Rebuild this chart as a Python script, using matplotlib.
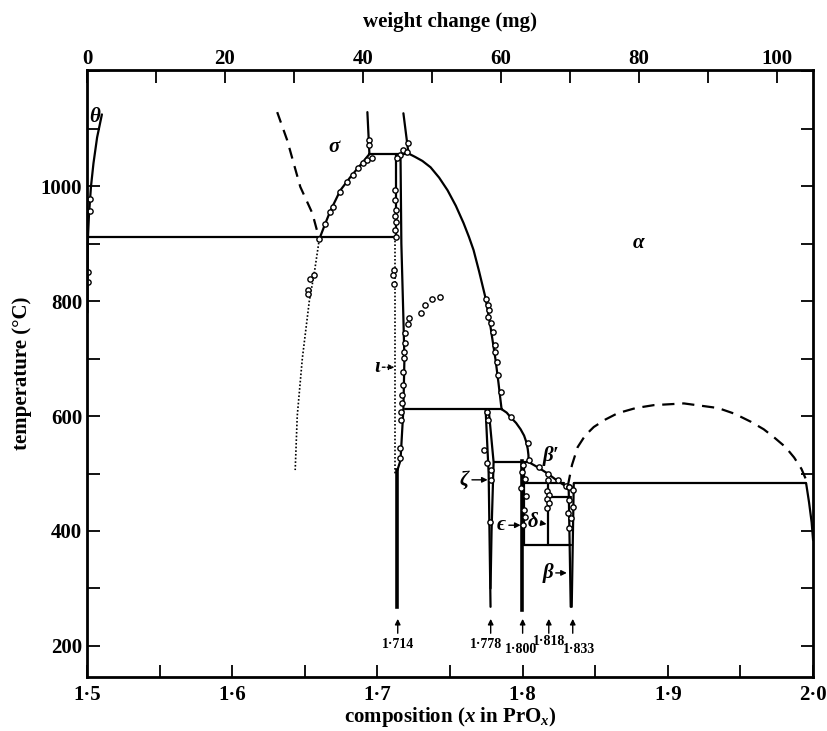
import numpy as np
import matplotlib
matplotlib.use('Agg')
import matplotlib.pyplot as plt
from matplotlib.ticker import FixedLocator, FixedFormatter, MultipleLocator

plt.rcParams['font.family'] = ['Liberation Serif', 'DejaVu Serif']
plt.rcParams['font.weight'] = 'bold'
plt.rcParams['axes.labelweight'] = 'bold'
plt.rcParams['mathtext.fontset'] = 'custom'
plt.rcParams['mathtext.rm'] = 'Liberation Serif:bold'
plt.rcParams['mathtext.it'] = 'Liberation Serif:italic:bold'

# axis set-up
x_ticks = [1.5, 1.6, 1.7, 1.8, 1.9, 2.0]
x_tick_labels = ['1·5', '1·6', '1·7', '1·8', '1·9', '2·0']
t_ticks = [200, 400, 600, 800, 1000]
mg_ticks = [0, 20, 40, 60, 80, 100]
MG_PER_X = 210.4  # weight change (mg) per unit of x

# theta boundary
theta_x = [1.5003, 1.5005, 1.5007, 1.5014, 1.5028, 1.5045, 1.5070, 1.5103]
theta_t = [780, 850, 911, 950, 1000, 1040, 1085, 1125]
theta_pts_x = [1.5021, 1.5021, 1.5007, 1.5007]
theta_pts_t = [978, 957, 850, 833]

# eutectoid at 911
eut_x = [1.5, 1.7131]
eut_t = [911, 911]

# sigma boundary, metastable part (dashed then dotted)
sig_dash_x = [1.6310, 1.6379, 1.6469, 1.6552, 1.6600]
sig_dash_t = [1129, 1080, 999, 953, 908]
sig_dot_x = [1.6600, 1.6566, 1.6531, 1.6483, 1.6448, 1.6434]
sig_dot_t = [908, 850, 800, 700, 600, 506]
sig_dot_pts_x = [1.6566, 1.6538, 1.6524, 1.6524]
sig_dot_pts_t = [845, 838, 819, 812]

# sigma boundary, solid
sig_x = [1.6600, 1.6641, 1.6676, 1.6745, 1.6814, 1.6883, 1.6945]
sig_t = [908, 935, 957, 993, 1016, 1037, 1056]
sig_pts_x = [1.6600, 1.6641, 1.6676, 1.6697, 1.6745, 1.6793, 1.6834,
             1.6869, 1.6903, 1.6931, 1.6966, 1.6945, 1.6945]
sig_pts_t = [908, 935, 956, 963, 990, 1007, 1019, 1031, 1040, 1045, 1049,
             1080, 1071]

# peritectic at 1056 and upper lines
top_x = [1.6945, 1.7214]
top_t = [1056, 1056]
up_left_x = [1.6931, 1.6945]
up_left_t = [1129, 1056]
up_right_x = [1.7179, 1.7214]
up_right_t = [1127, 1057]
top_pts_x = [1.7214, 1.7159, 1.7138, 1.7179, 1.7207]
top_pts_t = [1075, 1054, 1049, 1063, 1060]

# iota (1.714) region
iota_a_x = [1.7131, 1.7131]
iota_a_t = [1056, 911]
iota_dot_x = [1.7124, 1.7124]
iota_dot_t = [911, 500]
iota_low_x = [1.7138, 1.7138]
iota_low_t = [506, 268]
iota_b_x = [1.7159, 1.7165, 1.7179, 1.7186, 1.7179, 1.7159, 1.7138]
iota_b_t = [1056, 900, 770, 700, 612, 523, 506]
iota_pts_x = [1.7124, 1.7124, 1.7131, 1.7124, 1.7131, 1.7124, 1.7131,
              1.7117, 1.7110, 1.7117,
              1.7193, 1.7193, 1.7186, 1.7186, 1.7179, 1.7179, 1.7172,
              1.7172, 1.7165, 1.7165, 1.7159, 1.7159]
iota_pts_t = [993, 976, 958, 949, 938, 923, 911,
              854, 845, 830,
              744, 727, 711, 701, 677, 654, 636, 623, 607, 593, 544, 527]
off_pts_x = [1.7221, 1.7214, 1.7297, 1.7331, 1.7379, 1.7428]
off_pts_t = [770, 760, 779, 793, 803, 807]

# alpha boundary from the maximum down to 612
alpha_x = [1.7214, 1.7260, 1.7310, 1.7366, 1.7425, 1.7483, 1.7540,
           1.7593, 1.7630, 1.7662, 1.7700, 1.7745, 1.7779, 1.7814,
           1.7834, 1.7855]
alpha_t = [1057, 1051, 1044, 1033, 1015, 993, 966, 936, 912, 889, 852,
           805, 755, 697, 657, 612]
alpha_pts_x = [1.7745, 1.7759, 1.7766, 1.7759, 1.7779, 1.7793, 1.7807,
               1.7807, 1.7821, 1.7828, 1.7848]
alpha_pts_t = [803, 793, 784, 772, 762, 746, 723, 711, 694, 671, 642]

h612_x = [1.7193, 1.7855]
h612_t = [612, 612]

# alpha / beta' boundary
low_x = [1.7855, 1.7890, 1.7917, 1.7955, 1.7986, 1.8010, 1.8025, 1.8035,
         1.8040, 1.8041]
low_t = [612, 606, 598, 588, 577, 566, 555, 543, 532, 520]
low_pts_x = [1.7917, 1.8034, 1.8041]
low_pts_t = [598, 553, 523]
bp_x = [1.8041, 1.8110, 1.8172, 1.8241, 1.8297, 1.8331]
bp_t = [520, 510, 500, 487, 478, 476]
bp_pts_x = [1.8110, 1.8172, 1.8241, 1.8297, 1.8317]
bp_pts_t = [511, 500, 489, 478, 476]

# zeta (1.778)
zeta_l_x = [1.7745, 1.7766, 1.7779]
zeta_l_t = [612, 500, 268]
zeta_r_x = [1.7766, 1.7800, 1.7793, 1.7786, 1.7779]
zeta_r_t = [612, 520, 460, 400, 300]
zeta_pts_x = [1.7752, 1.7759, 1.7731, 1.7752, 1.7779, 1.7779, 1.7772]
zeta_pts_t = [607, 593, 541, 518, 506, 489, 416]
h520_x = [1.7800, 1.8041]
h520_t = [520, 520]

# epsilon (1.800), delta (1.818), beta (1.833)
eps_x = [1.7996, 1.7996]
eps_t = [522, 263]
eps_r_x = [1.8010, 1.8010]
eps_r_t = [518, 376]
eps_pts_x = [1.8000, 1.7993, 1.8014, 1.7986, 1.8021, 1.8007, 1.8014, 1.8000]
eps_pts_t = [515, 503, 490, 475, 460, 437, 425, 410]
h483_x = [1.8010, 1.8283]
h483_t = [483, 483]
h459_x = [1.8172, 1.8331]
h459_t = [459, 459]
h376_x = [1.8010, 1.8331]
h376_t = [376, 376]
delta_x = [1.8172, 1.8172]
delta_t = [483, 376]
delta_pts_x = [1.8172, 1.8165, 1.8179, 1.8165, 1.8179, 1.8165]
delta_pts_t = [489, 470, 462, 455, 448, 440]
beta_l_x = [1.8317, 1.8331]
beta_l_t = [476, 268]
beta_r_x = [1.8352, 1.8338]
beta_r_t = [483, 268]
beta_pts_x = [1.8317, 1.8345, 1.8317, 1.8345, 1.8310, 1.8331, 1.8317]
beta_pts_t = [476, 471, 454, 442, 431, 422, 405]

# right side: eutectoid at 483 and boundary near 2.0
h483r_x = [1.8352, 1.9952]
h483r_t = [483, 483]
edge_x = [1.9952, 1.9972, 1.9990, 2.0]
edge_t = [483, 450, 415, 384]
dome_x = [1.8310, 1.8340, 1.8379, 1.8430, 1.8490, 1.8570, 1.8655,
          1.8780, 1.8903, 1.9110, 1.9345, 1.9460, 1.9572, 1.9660,
          1.9731, 1.9810, 1.9869, 1.9920, 1.9952]
dome_t = [477, 515, 546, 566, 581, 594, 605, 614, 619, 622, 614, 604,
          590, 577, 563, 546, 528, 508, 489]

# compositions marked at the bottom
comp_x = [1.714, 1.778, 1.800, 1.818, 1.8345]
comp_labels = ['1·714', '1·778', '1·800', '1·818', '1·833']
comp_label_x = [1.714, 1.7745, 1.7986, 1.818, 1.8386]
comp_label_t = [202, 202, 193, 207, 193]

fig = plt.figure(figsize=(8.28, 7.31), dpi=100)
ax = fig.add_axes([0.105, 0.074, 0.877, 0.830])

lw = 1.6
ls_kw = dict(color='k', lw=lw, solid_capstyle='round',
             solid_joinstyle='round')
pt_kw = dict(ls='none', marker='o', ms=3.8, mfc='white', mec='k', mew=1.0)

for xs, ts in [(theta_x, theta_t), (eut_x, eut_t), (sig_x, sig_t),
               (top_x, top_t), (up_left_x, up_left_t),
               (up_right_x, up_right_t), (iota_a_x, iota_a_t),
               (iota_b_x, iota_b_t), (alpha_x, alpha_t), (h612_x, h612_t),
               (low_x, low_t), (bp_x, bp_t), (zeta_l_x, zeta_l_t),
               (zeta_r_x, zeta_r_t), (h520_x, h520_t), (eps_r_x, eps_r_t),
               (h483_x, h483_t), (h459_x, h459_t), (h376_x, h376_t),
               (delta_x, delta_t), (beta_l_x, beta_l_t),
               (beta_r_x, beta_r_t), (h483r_x, h483r_t), (edge_x, edge_t)]:
    ax.plot(xs, ts, **ls_kw)

ax.plot(iota_low_x, iota_low_t, color='k', lw=2.6)
ax.plot(eps_x, eps_t, color='k', lw=2.6)
ax.plot(sig_dash_x, sig_dash_t, color='k', lw=lw, ls=(0, (5, 3.5)))
ax.plot(dome_x, dome_t, color='k', lw=lw, ls=(0, (5.5, 3.5)))
ax.plot(sig_dot_x, sig_dot_t, color='k', lw=1.2, ls=(0, (1, 1.2)))
ax.plot(iota_dot_x, iota_dot_t, color='k', lw=1.2, ls=(0, (1, 1.2)))

for xs, ts in [(theta_pts_x, theta_pts_t), (sig_dot_pts_x, sig_dot_pts_t),
               (sig_pts_x, sig_pts_t), (top_pts_x, top_pts_t),
               (iota_pts_x, iota_pts_t), (off_pts_x, off_pts_t),
               (alpha_pts_x, alpha_pts_t), (low_pts_x, low_pts_t),
               (bp_pts_x, bp_pts_t), (zeta_pts_x, zeta_pts_t),
               (eps_pts_x, eps_pts_t), (delta_pts_x, delta_pts_t),
               (beta_pts_x, beta_pts_t)]:
    ax.plot(xs, ts, **pt_kw)

# phase labels
lab_kw = dict(fontsize=15, style='italic', fontweight='bold',
              ha='center', va='center')
ax.text(1.5055, 1120, 'θ', **lab_kw)
ax.text(1.670, 1068, 'σ', **lab_kw)
ax.text(1.880, 901, 'α', **lab_kw)
ax.text(1.8193, 531, "β′", **lab_kw)

arr_kw = dict(arrowstyle='-|>', color='k', lw=1.0, mutation_scale=8,
              shrinkA=0, shrinkB=0)
ax.annotate('ι', xy=(1.7117, 685), xytext=(1.6995, 685),
            arrowprops=dict(arr_kw, ls=(0, (2, 1.5))), **lab_kw)
ax.annotate('ζ', xy=(1.7759, 489), xytext=(1.7600, 489),
            arrowprops=arr_kw, **lab_kw)
ax.annotate('ϵ', xy=(1.7986, 410), xytext=(1.7855, 410),
            arrowprops=arr_kw, **lab_kw)
ax.annotate('δ', xy=(1.8165, 412), xytext=(1.8075, 416),
            arrowprops=arr_kw, **lab_kw)
ax.annotate('β', xy=(1.8304, 327), xytext=(1.8172, 327),
            arrowprops=arr_kw, **lab_kw)

# composition markers at the bottom
for cx in comp_x:
    ax.annotate('', xy=(cx, 247), xytext=(cx, 222), arrowprops=arr_kw)
for lx, lt, s in zip(comp_label_x, comp_label_t, comp_labels):
    ax.text(lx, lt, s, fontsize=10, ha='center', va='center')

ax.set_xlim(1.5, 2.0)
ax.set_ylim(146, 1202)

ax.xaxis.set_major_locator(FixedLocator(x_ticks))
ax.xaxis.set_major_formatter(FixedFormatter(x_tick_labels))
ax.xaxis.set_minor_locator(MultipleLocator(0.05))
ax.yaxis.set_major_locator(FixedLocator(t_ticks))
ax.yaxis.set_minor_locator(MultipleLocator(100))
ax.tick_params(which='both', direction='in', length=9, width=1.3,
               labelsize=15, top=False, right=True, labelright=False)
ax.tick_params(axis='x', pad=6)
for sp in ax.spines.values():
    sp.set_linewidth(2.0)

top = ax.secondary_xaxis('top', functions=(lambda x: (x - 1.5) * MG_PER_X,
                                           lambda m: 1.5 + m / MG_PER_X))
top.xaxis.set_major_locator(FixedLocator(mg_ticks))
top.xaxis.set_minor_locator(MultipleLocator(10))
top.tick_params(which='both', direction='in', length=9, width=1.3,
                labelsize=15, pad=1)
top.set_xlabel('weight change (mg)', fontsize=15, labelpad=16)

ax.set_xlabel('composition ($x$ in PrO$_x$)', fontsize=15, labelpad=0)
ax.set_ylabel('temperature (°C)', fontsize=15, labelpad=6)

fig.savefig('out.png', dpi=100)
